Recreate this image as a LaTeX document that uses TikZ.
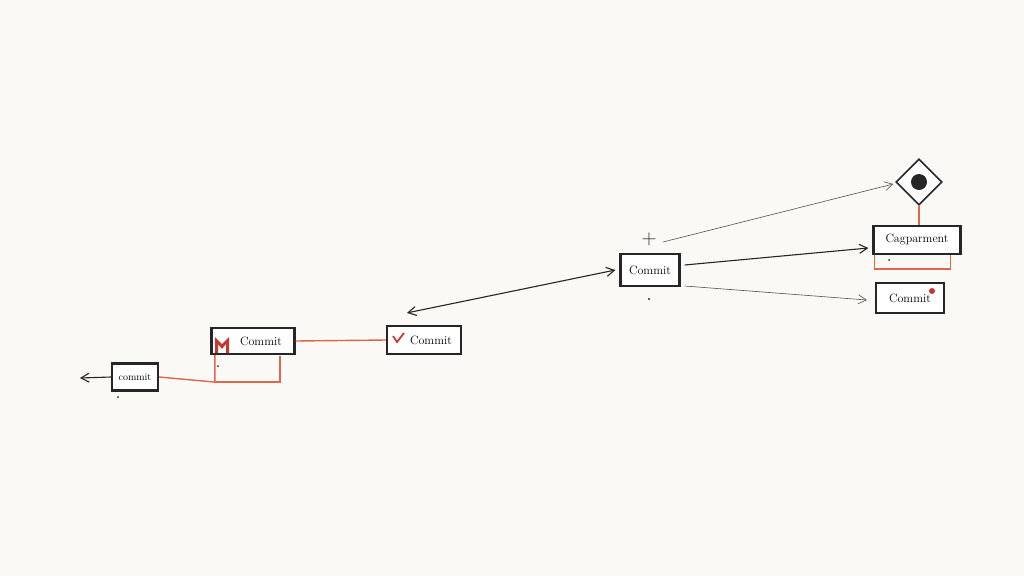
\documentclass[tikz,border=0pt]{standalone}
\usepackage{tikz}
\usetikzlibrary{shapes.geometric,arrows.meta}
\definecolor{paper}{HTML}{FAF9F5}
\definecolor{redline}{HTML}{E0654A}
\definecolor{redmark}{HTML}{C8372D}
\definecolor{ink}{HTML}{262626}
\tikzset{
  commitbox/.style={draw=ink, line width=2.2pt, fill=white, inner sep=0pt, font=\large},
  redlink/.style={draw=redline, line width=1.4pt},
  inkarrow/.style={draw=ink, line width=1.1pt, -{Straight Barb[length=8pt,width=9pt]}},
  thinarrow/.style={draw=ink!80, line width=0.6pt, -{Straight Barb[length=8pt,width=9pt]}},
}

\begin{document}
\begin{tikzpicture}[x=1pt,y=-1pt]
  \fill[paper] (0,0) rectangle (1024,576);
  \useasboundingbox (0,0) rectangle (1024,576);

  % commit boxes
  \node[commitbox, minimum width=46, minimum height=27, font=\normalsize] (small) at (135,377) {commit};
  \node[commitbox, minimum width=83, minimum height=26] (left) at (253,341) {\hspace{16pt}Commit};
  \node[commitbox, minimum width=74, minimum height=28] (mid) at (424,340) {\hspace{14pt}Commit};
  \node[commitbox, minimum width=59, minimum height=32] (top) at (650,270) {Commit};
  \node[commitbox, minimum width=87, minimum height=28] (comp) at (917,240) {Cagparment};
  \node[commitbox, minimum width=68, minimum height=30] (last) at (910,298) {Commit};
  \node[draw=ink, line width=1.6pt, fill=white, shape=diamond, minimum size=46] (merge) at (919,182) {};
  \fill[ink] (merge.center) circle (8);
  \node[font=\huge, text=ink] (plus) at (649,239) {+};

  % red marks
  \fill[redmark] (215,353) -- (215,337) -- (222,344) -- (229,337) -- (229,353) -- (226,353)
    -- (226,344) -- (222,349) -- (218,344) -- (218,353) -- cycle;
  \draw[redmark, line width=1.8pt] (393,336) -- (397,342) -- (404,333);
  \fill[redmark] (932,291) circle (3);

  % free ends
  \coordinate (tailend) at (80,378);

  % red links
  \draw[redlink] (small.east) -- ([shift={(4.5,27)}]left.south west) -- ([xshift=4.5pt]left.south west);
  \draw[redlink] ([shift={(4.5,27)}]left.south west) -- ++(65,0) -- ++(0,-26);
  \draw[redlink] (left.east) -- (mid.west);
  \draw[redlink] (merge.south) -- (merge.south |- comp.north);
  \draw[redlink] ([xshift=2pt]comp.south west) -- ++(0,14) -| ([xshift=-11pt]comp.south east);

  % connectors
  \draw[inkarrow] (small.west) -- (tailend);
  \draw[inkarrow, {Straight Barb[length=8pt,width=9pt]}-{Straight Barb[length=8pt,width=9pt]}]
    ([shift={(-17,-12)}]mid.north) -- ([xshift=-4pt]top.west);
  \draw[inkarrow] ([shift={(4,-5)}]top.east) -- ([shift={(-4,8)}]comp.west);
  \draw[thinarrow] ([shift={(14,3)}]plus.center) -- ([shift={(-2,2)}]merge.west);
  \draw[thinarrow] ([shift={(4,16)}]top.east) -- ([shift={(-8,2)}]last.west);

  % dots
  \fill[ink] (118,397) circle (1);
  \fill[ink] (218,366) circle (1);
  \fill[ink] (649,299) circle (1.2);
  \fill[ink] (889,260) circle (1);
\end{tikzpicture}
\end{document}
